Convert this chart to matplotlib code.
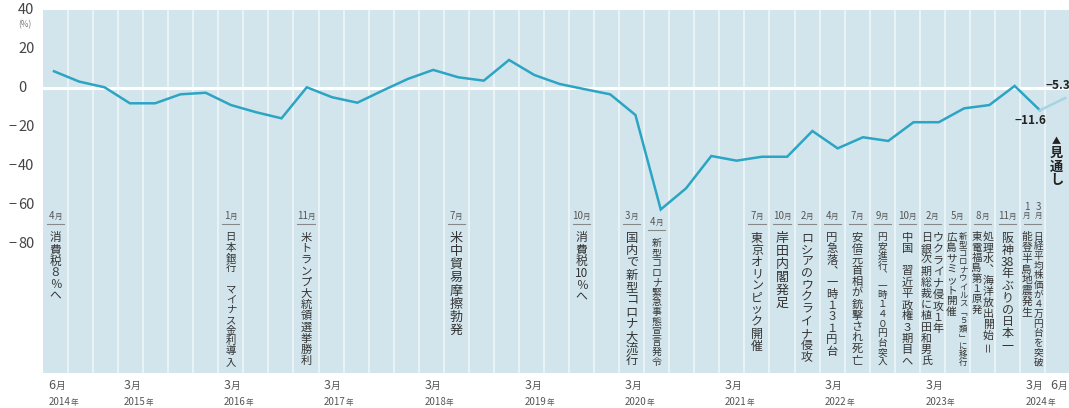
import re
import matplotlib
matplotlib.use('Agg')
import matplotlib.pyplot as plt
import matplotlib.transforms as mtransforms

plt.rcParams['font.family'] = ['Noto Sans CJK JP', 'DejaVu Sans']

# quarterly values, 2014 Jun .. 2024 Mar, last one is the outlook (2024 Jun)
values = [8.4, 3.1, 0.2, -8.0, -8.0, -3.4, -2.6, -8.9, -12.6, -15.7,
          0.2, -4.9, -7.7, -1.5, 4.5, 9.1, 5.3, 3.6, 14.2, 6.5,
          1.9, -0.8, -3.4, -14.0, -62.4, -51.6, -35.0, -37.4, -35.4, -35.4,
          -22.2, -31.1, -25.4, -27.3, -17.7, -17.7, -10.6, -8.9, 0.9, -11.6,
          -5.3]
n_actual = 40

yticks = [40, 20, 0, -20, -40, -60, -80]

tick_q = [0, 3, 7, 11, 15, 19, 23, 27, 31, 35, 39, 40]
tick_month = ['6月', '3月', '3月', '3月', '3月', '3月', '3月', '3月', '3月', '3月', '3月', '6月']
tick_year = ['2014年', '2015年', '2016年', '2017年', '2018年', '2019年', '2020年',
             '2021年', '2022年', '2023年', '2024年', '']

# events: quarter cell, month label(s), columns (right to left)
event_q = [0, 7, 10, 16, 21, 23, 24, 28, 29, 30, 31, 32, 33, 34, 35, 36, 37, 38, 39]
event_month = ['4月', '1月', '11月', '7月', '10月', '3月', '4月', '7月', '10月', '2月',
               '4月', '7月', '9月', '10月', '2月', '5月', '8月', '11月', '3月 1月']
event_text = [
    ['消費税８％へ'],
    ['日本銀行　マイナス金利導入'],
    ['米トランプ大統領選挙勝利'],
    ['米中貿易摩擦勃発'],
    ['消費税10％へ'],
    ['国内で新型コロナ大流行'],
    ['新型コロナ緊急事態宣言発令'],
    ['東京オリンピック開催'],
    ['岸田内閣発足'],
    ['ロシアのウクライナ侵攻'],
    ['円急落、一時１３１円台'],
    ['安倍元首相が銃撃され死亡'],
    ['円安進行、一時１４０円台突入'],
    ['中国　習近平政権３期目へ'],
    ['ウクライナ侵攻１年', '日銀次期総裁に植田和男氏'],
    ['新型コロナウイルス「５類」に移行', '広島サミット開催'],
    ['処理水、海洋放出開始＝', '東電福島第１原発'],
    ['阪神38年ぶりの日本一'],
    ['日経平均株価が４万円台を突破', '能登半島地震発生'],
]
# layout: top / bottom pixel of each column
event_top = [232, 232, 232, 232, 232, 232, 238, 232, 232, 232,
             232, 232, 232, 232, 232, 232, 232, 232, 232]
event_bottom = [[302], [367], [367], [337], [303], [367], [367], [352], [310], [363],
                [357], [366], [367], [367], [335, 367], [367, 317], [352, 315], [352],
                [367, 318]]

W, H = 1069, 408
BG = '#d3e5ec'
LINE = '#2ba5c3'
LINE_FC = '#a6d4e4'
TXT = '#333333'
GRAY = '#555555'

fig = plt.figure(figsize=(W / 100, H / 100), dpi=100)
ax = fig.add_axes([43 / W, (H - 373) / H, (W - 43) / W, (373 - 10) / H])
ax.set_facecolor(BG)
for s in ax.spines.values():
    s.set_visible(False)
ax.set_xticks([])
ax.set_yticks([])
ax.set_xlim(-0.435, 40.15)
ax.set_ylim(-146.2, 39.8)
renderer = fig.canvas.get_renderer()


def grid_x(k):
    # white column separators drift a little against the data points
    return 0.554 + 0.991 * k


def cell_x(k):
    return grid_x(k) - 0.4955


for k in range(40):
    ax.axvline(grid_x(k), color='#eef5f8', lw=1.2, zorder=1)
ax.axhline(0, color='white', lw=2.2, zorder=2)

xs = list(range(len(values)))
ax.plot(xs[:n_actual], values[:n_actual], color=LINE, lw=1.8, zorder=3,
        solid_joinstyle='miter')
ax.plot(xs[n_actual - 1:], values[n_actual - 1:], color=LINE_FC, lw=1.8, zorder=3)

ax.annotate('−11.6', xy=(n_actual - 1, values[n_actual - 1]), xytext=(-9, -10),
            textcoords='offset pixels', ha='center', va='center', fontsize=8.5,
            fontweight='bold', color='#222222')
ax.annotate('−5.3', xy=(n_actual, values[n_actual]), xytext=(-20, 13),
            textcoords='offset pixels', ha='left', va='center', fontsize=8.5,
            fontweight='bold', color='#222222', annotation_clip=False)

trY = mtransforms.blended_transform_factory(fig.transFigure, ax.transData)
for v in yticks:
    ax.text(18 / W, v, str(abs(v)), transform=trY, ha='left', va='center',
            fontsize=10.5, color='#444444', clip_on=False)
    if v < 0:
        ax.text(17 / W, v, '−', transform=trY, ha='right', va='center',
                fontsize=10.5, color='#444444', clip_on=False)
fig.text(18 / W, 1 - 25 / H, '(%)', ha='left', va='center', fontsize=6, color='#777777')

trX = mtransforms.blended_transform_factory(ax.transData, fig.transFigure)


def fy(px):
    return 1 - px / H


def num_unit(x, ypx, s, fs_num, fs_unit, align):
    # number in normal size, trailing 月/年 a bit smaller; align 0=left, 0.5=center
    t1 = ax.text(x, fy(ypx), s[:-1], transform=trX, ha='left', va='baseline',
                 fontsize=fs_num, color=GRAY, clip_on=False)
    t2 = ax.text(x, fy(ypx), s[-1], transform=trX, ha='left', va='baseline',
                 fontsize=fs_unit, color=GRAY, clip_on=False)
    w1 = t1.get_window_extent(renderer).width
    w2 = t2.get_window_extent(renderer).width
    dx = -align * (w1 + w2)
    t1.set_transform(trX + mtransforms.ScaledTranslation(dx / 100, 0, fig.dpi_scale_trans))
    t2.set_transform(trX + mtransforms.ScaledTranslation((dx + w1) / 100, 0,
                                                         fig.dpi_scale_trans))


for q, m, yr in zip(tick_q, tick_month, tick_year):
    num_unit(cell_x(q) - 0.28, 389, m, 9, 7, 0)
    if yr:
        num_unit(cell_x(q) - 0.28, 405, yr, 7, 5.5, 0)

VERT = {'、': '︑', '「': '﹁', '」': '﹂'}


def draw_column(x, text, top, bottom, cap):
    cells = re.findall(r'[0-9]+|.', text)
    pitch = (bottom - top) / len(cells)
    fs = min(pitch * 1.0, cap) * 0.72
    for j, c in enumerate(cells):
        y = top + (j + 0.5) * pitch
        rot = 90 if c in 'ー＝' else 0
        c = VERT.get(c, c)
        ax.text(x, fy(y), c, transform=trX, ha='center', va='center',
                fontsize=fs, rotation=rot, color=TXT, clip_on=False)


for q, m, cols, top, bots in zip(event_q, event_month, event_text, event_top, event_bottom):
    xc = cell_x(q)
    sep = top - 8
    if len(cols) == 1:
        offs = [0.0]
        cap = 13.5
    else:
        offs = [0.23, -0.23]
        cap = 11.0
    for off, col, b in zip(offs, cols, bots):
        draw_column(xc + off, col, top, b, cap)
    months = m.split()
    if len(months) == 1:
        num_unit(xc, sep - 5, m, 7, 5.5, 0.5)
    else:
        for off, mm in zip(offs, months):
            ax.text(xc + off, fy(sep - 17), mm[:-1], transform=trX, ha='center',
                    va='center', fontsize=7, color=GRAY, clip_on=False)
            ax.text(xc + off, fy(sep - 8), mm[-1], transform=trX, ha='center',
                    va='center', fontsize=5.5, color=GRAY, clip_on=False)
    ax.plot([xc - 0.34, xc + 0.34], [fy(sep), fy(sep)], transform=trX,
            color='#888888', lw=0.8, clip_on=False)

# outlook marker
ox = n_actual - 0.35
ax.text(ox, fy(142), '▲', transform=trX, ha='center', va='center', fontsize=6.5,
        color='#222222')
for j, c in enumerate('見通し'):
    ax.text(ox, fy(153 + j * 13.5), c, transform=trX, ha='center', va='center',
            fontsize=9.5, fontweight='bold', color='#222222')

fig.savefig('out.png', dpi=100)
